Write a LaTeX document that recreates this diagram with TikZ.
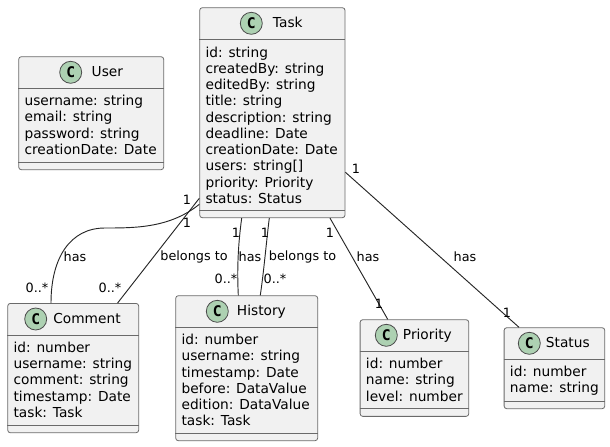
\documentclass[tikz,border=0pt]{standalone}
\usepackage{fontspec}
\setmainfont{DejaVu Sans}
\setmonofont{DejaVu Sans Mono}
\usetikzlibrary{positioning}
\definecolor{boxfill}{HTML}{F1F1F1}
\definecolor{boxline}{HTML}{6A6A6A}
\definecolor{spotfill}{HTML}{ADD1B2}
\tikzset{
    classbox/.style={draw=boxline, fill=boxfill, line width=0.6pt, rounded corners=2pt, anchor=north west, inner sep=0pt},
    divider/.style={draw=boxline, line width=0.6pt},
    spot/.style={draw=black!70, fill=spotfill, line width=0.6pt, circle, minimum size=16.5pt, inner sep=0pt, font=\fontsize{11}{12}\selectfont\ttfamily\bfseries},
    classname/.style={inner sep=0pt, text height=8pt, text depth=2pt, font=\fontsize{10.3}{12}\selectfont},
    members/.style={inner sep=0pt, anchor=north west, align=left, font=\fontsize{10.3}{12.2}\selectfont},
    edgelabel/.style={inner sep=0pt, font=\fontsize{9.6}{11}\selectfont},
    assoc/.style={draw=black!85, line width=0.7pt}
}
\begin{document}
\begin{tikzpicture}[x=0.75pt, y=-0.75pt]
            \useasboundingbox (0, 0) rectangle (610, 446);

            % classes
            \node [classbox, minimum width=109pt, minimum height=157.5pt] (task) at (199.3, 7.3) {};
            \node [spot] (taskC) at ([shift={(52, 16)}] task.north west) {C};
            \node [classname, right=7.5pt of taskC] (taskName) {Task};
            \draw [divider] ([shift={(0, 32)}] task.north west) to ([shift={(0, 32)}] task.north east);
            \draw [divider] ([shift={(0, -8)}] task.south west) to ([shift={(0, -8)}] task.south east);
            \node [members] (taskList) at ([shift={(6, 39)}] task.north west) {id: string\\createdBy: string\\editedBy: string\\title: string\\description: string\\deadline: Date\\creationDate: Date\\users: string[]\\priority: Priority\\status: Status};

            \node [classbox, minimum width=108.75pt, minimum height=84.75pt] (user) at (18.3, 56.3) {};
            \node [spot] (userC) at ([shift={(52.4, 16)}] user.north west) {C};
            \node [classname, right=7pt of userC] (userName) {User};
            \draw [divider] ([shift={(0, 32)}] user.north west) to ([shift={(0, 32)}] user.north east);
            \draw [divider] ([shift={(0, -8)}] user.south west) to ([shift={(0, -8)}] user.south east);
            \node [members] (userList) at ([shift={(6, 38.5)}] user.north west) {username: string\\email: string\\password: string\\creationDate: Date};

            \node [classbox, minimum width=98.25pt, minimum height=97pt] (comment) at (7.3, 303) {};
            \node [spot] (commentC) at ([shift={(28.4, 16)}] comment.north west) {C};
            \node [classname, right=4.5pt of commentC] (commentName) {Comment};
            \draw [divider] ([shift={(0, 32)}] comment.north west) to ([shift={(0, 32)}] comment.north east);
            \draw [divider] ([shift={(0, -8)}] comment.south west) to ([shift={(0, -8)}] comment.south east);
            \node [members] (commentList) at ([shift={(6, 38.5)}] comment.north west) {id: number\\username: string\\comment: string\\timestamp: Date\\task: Task};

            \node [classbox, minimum width=106.5pt, minimum height=108.75pt] (history) at (175.3, 295.3) {};
            \node [spot] (historyC) at ([shift={(42, 16)}] history.north west) {C};
            \node [classname, right=6pt of historyC] (historyName) {History};
            \draw [divider] ([shift={(0, 32)}] history.north west) to ([shift={(0, 32)}] history.north east);
            \draw [divider] ([shift={(0, -8)}] history.south west) to ([shift={(0, -8)}] history.south east);
            \node [members] (historyList) at ([shift={(6, 38.5)}] history.north west) {id: number\\username: string\\timestamp: Date\\before: DataValue\\edition: DataValue\\task: Task};

            \node [classbox, minimum width=81.5pt, minimum height=72.5pt] (priority) at (359.7, 319.3) {};
            \node [spot] (priorityC) at ([shift={(26.6, 16)}] priority.north west) {C};
            \node [classname, right=3.75pt of priorityC] (priorityName) {Priority};
            \draw [divider] ([shift={(0, 32)}] priority.north west) to ([shift={(0, 32)}] priority.north east);
            \draw [divider] ([shift={(0, -8)}] priority.south west) to ([shift={(0, -8)}] priority.south east);
            \node [members] (priorityList) at ([shift={(6, 38.5)}] priority.north west) {id: number\\name: string\\level: number};

            \node [classbox, minimum width=75.5pt, minimum height=60.75pt] (status) at (503.7, 327.3) {};
            \node [spot] (statusC) at ([shift={(25.6, 16)}] status.north west) {C};
            \node [classname, right=3.75pt of statusC] (statusName) {Status};
            \draw [divider] ([shift={(0, 32)}] status.north west) to ([shift={(0, 32)}] status.north east);
            \draw [divider] ([shift={(0, -8)}] status.south west) to ([shift={(0, -8)}] status.south east);
            \node [members] (statusList) at ([shift={(6, 38.5)}] status.north west) {id: number\\name: string};

            % associations
            \draw [assoc] ([shift={(0, 197)}] task.north west) .. controls (170, 228) and (135, 228) .. (105, 228) .. controls (70, 228) and ([shift={(43.7, -45)}] comment.north west) .. ([shift={(43.7, 0)}] comment.north west);
            \draw [assoc] ([shift={(0, 191)}] task.north west) to ([shift={(110.3, 0)}] comment.north west);
            \draw [assoc] ([shift={(42.4, 0)}] task.south west) .. controls (238, 245) and (237, 270) .. ([shift={(63, 0)}] history.north west);
            \draw [assoc] ([shift={(70, 0)}] task.south west) .. controls (266, 245) and (264, 270) .. ([shift={(85, 0)}] history.north west);
            \draw [assoc] ([shift={(130.7, 0)}] task.south west) to ([shift={(28, 0)}] priority.north west);
            \draw [assoc] ([shift={(0, 165)}] task.north east) to ([shift={(15.3, 0)}] status.north west);

            % labels
            \node [edgelabel] (hasComment) at (75, 257) {has};
            \node [edgelabel] (toComment) at (194, 257) {belongs to};
            \node [edgelabel] (hasHistory) at (250, 257) {has};
            \node [edgelabel] (toHistory) at (302.5, 257) {belongs to};
            \node [edgelabel] (hasPriority) at (368, 257) {has};
            \node [edgelabel] (hasStatus) at (465, 257) {has};

            \node [edgelabel] (oneA) at (187, 200) {1};
            \node [edgelabel] (oneB) at (187, 223) {1};
            \node [edgelabel] (oneC) at (236, 233) {1};
            \node [edgelabel] (oneD) at (265, 233) {1};
            \node [edgelabel] (oneE) at (330, 233) {1};
            \node [edgelabel] (oneF) at (356, 169) {1};
            \node [edgelabel] (oneG) at (379, 304) {1};
            \node [edgelabel] (oneH) at (507, 313) {1};
            \node [edgelabel] (manyA) at (37, 288) {0..*};
            \node [edgelabel] (manyB) at (110, 288) {0..*};
            \node [edgelabel] (manyC) at (226, 279) {0..*};
            \node [edgelabel] (manyD) at (275, 279) {0..*};
        \end{tikzpicture}
\end{document}
